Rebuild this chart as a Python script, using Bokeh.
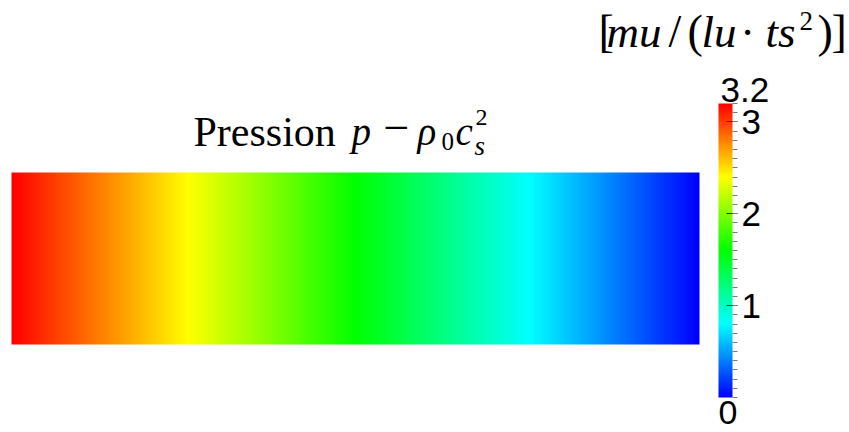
import colorsys
import numpy as np
from bokeh.plotting import figure
from bokeh.models import ColorBar, LinearColorMapper, FixedTicker, Range1d
from bokeh.core.properties import value
from bokeh.embed import file_html
from bokeh.resources import INLINE

# ---- data ----
node_pos = [0.0, 0.256, 0.5, 0.755, 1.0]        # position along the channel (fraction of length)
pressure_nodes = [3.2, 2.4, 1.6, 0.8, 0.0]     # p - rho0*cs^2 at those positions
cbar_low, cbar_high = 0.0, 3.2
cbar_ticks = [1, 2, 3]
cbar_minor = [round(0.1 * k, 1) for k in range(0, 33)]
range_labels = ["3.2", "0"]

# ---- style ----
def rainbow(n=256):
    cols = []
    for i in range(n):
        h = (1.0 - i / (n - 1)) * 240.0 / 360.0
        r, g, b = colorsys.hsv_to_rgb(h, 1.0, 1.0)
        cols.append("#%02x%02x%02x" % (round(r * 255), round(g * 255), round(b * 255)))
    return cols

palette = rainbow()
mapper = LinearColorMapper(palette=palette, low=cbar_low, high=cbar_high)

W, H = 849, 432
p = figure(width=W, height=H, x_range=Range1d(0, W), y_range=Range1d(H, 0),
           x_axis_type=None, y_axis_type=None, toolbar_location=None,
           output_backend="svg", min_border=0, outline_line_color=None)
p.grid.visible = False

# field (nodal values, linear shading between nodes)
FX0, FY0, FW, FH = 11, 172, 688, 172
cols = np.linspace(0.0, 1.0, FW)
row = np.interp(cols, node_pos, pressure_nodes)
field = np.tile(row, (4, 1))
p.image(image=[field], x=FX0, y=FY0, dw=FW, dh=FH, color_mapper=mapper)

# colour bar
cb = ColorBar(color_mapper=mapper, orientation="vertical", width=14, height=294,
              location=(718, 35), padding=0,
              ticker=FixedTicker(ticks=cbar_ticks, minor_ticks=cbar_minor),
              major_label_text_font="Liberation Sans", major_label_text_font_size="35px",
              major_label_text_color="black",
              major_tick_in=6, major_tick_out=5, major_tick_line_color="#333333",
              minor_tick_in=0, minor_tick_out=5, minor_tick_line_color="#7a7a7a",
              label_standoff=4, bar_line_color=None, border_line_color=None,
              background_fill_alpha=0)
p.add_layout(cb)

SANS = value("Liberation Sans")
SERIF = value("Liberation Serif")

def txt(s, x, base, size, font=SERIF, style="normal", align="left"):
    # place text so that its alphabetic baseline lies at `base`
    y = base - 0.347 * size
    p.text(x=[x], y=[y], text=[s], text_font=font, text_font_size=value(f"{size}px"),
           text_font_style=style, text_align=align, text_baseline="middle",
           text_line_height=1.0, text_color="black")

# colour bar range labels
txt(range_labels[0], 720, 102, 35, font=SANS)
txt(range_labels[1], 718, 424, 34, font=SANS)

# title: Pression p − ρ0 c_s^2
txt("Pression", 193, 146, 42)
txt("p", 351, 145, 39, style="italic")
txt("\u2212", 396, 143, 46, align="center")
txt("\u03c1", 417, 145, 39, style="italic")
txt("0", 441, 150, 25)
txt("c", 455, 145, 39, style="italic")
txt("2", 475, 125, 24)
txt("s", 474, 155, 27, style="italic")

# units: [mu/(lu · ts^2)]
txt("[", 598, 47, 46)
txt("mu", 606, 47, 45, style="italic")
txt("/", 668, 47, 46)
txt("(", 687, 47, 46)
txt("lu", 701, 47, 45, style="italic")
txt("\u00b7", 747, 47, 44, align="center")
txt("ts", 765, 47, 45, style="italic")
txt("2", 799, 30, 27)
txt(")", 817, 47, 46)
txt("]", 831, 47, 46)

open("out.html", "w").write(file_html(p, INLINE))
